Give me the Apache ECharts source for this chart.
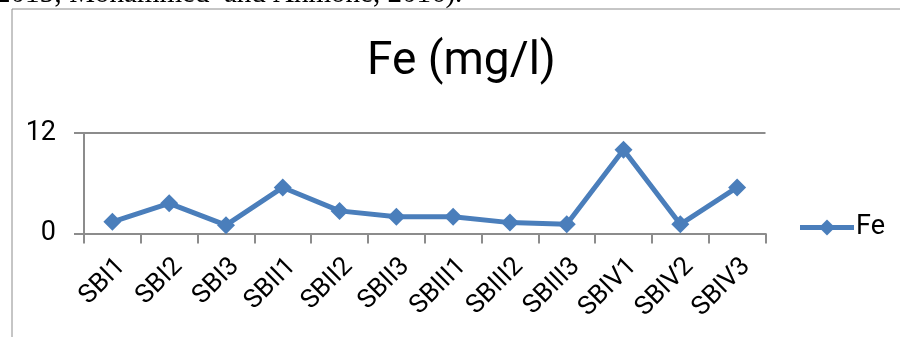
<!DOCTYPE html>
<html>
<head>
<meta charset="utf-8">
<script src="https://cdn.jsdelivr.net/npm/echarts@6/dist/echarts.min.js"></script>
<style>
  html, body { margin: 0; padding: 0; background: #fff; }
  #chart { width: 900px; height: 337px; }
</style>
</head>
<body>
<div id="chart"></div>
<script>
// Sampling sites and measured iron concentration
const sites = ['SBI1', 'SBI2', 'SBI3', 'SBII1', 'SBII2', 'SBII3', 'SBIII1', 'SBIII2', 'SBIII3', 'SBIV1', 'SBIV2', 'SBIV3'];
const feValues = [1.4, 3.6, 1.0, 5.5, 2.7, 2.0, 2.0, 1.3, 1.1, 10.0, 1.1, 5.5];
const yTicks = [0, 12];
const chartTitle = 'Fe (mg/l)';
const seriesName = 'Fe';
const captionText = '2015; Mohammed  and Ahmone, 2016).';

const blue = '#4a7ebb';
const gray = '#8c8c8c';

// legend key: thick line with a diamond in the middle
const legendIcon = 'path://M0,5.5L54,5.5L54,10.5L0,10.5Z M27,0L35,8L27,16L19,8Z';

const chart = echarts.init(document.getElementById('chart'), null, { renderer: 'canvas' });
chart.setOption({
  animation: false,
  backgroundColor: '#fff',
  title: {
    text: chartTitle,
    left: 362,
    top: 34,
    textStyle: { fontFamily: 'Roboto', fontSize: 46, fontWeight: 'normal', color: '#000' }
  },
  legend: {
    data: [{ name: seriesName, icon: legendIcon }],
    left: 795,
    top: 209,
    itemWidth: 54,
    itemHeight: 16,
    itemGap: 4,
    textStyle: { fontFamily: 'Roboto', fontSize: 27, color: '#000', padding: [0, 0, 0, -3] }
  },
  graphic: [
    {
      type: 'rect',
      shape: { x: 12, y: 9, width: 1000, height: 400 },
      style: { fill: 'none', stroke: gray, lineWidth: 1 },
      silent: true
    },
    {
      type: 'text',
      left: -4,
      top: -20,
      style: { text: captionText, fontFamily: 'Liberation Serif', fontSize: 29, fill: '#000' },
      silent: true
    }
  ],
  grid: { left: 84, right: 134.5, top: 133, bottom: 103.5 },
  xAxis: {
    type: 'category',
    data: sites,
    boundaryGap: true,
    axisLine: { lineStyle: { color: gray, width: 2 } },
    axisTick: { show: true, length: 10, interval: 0, lineStyle: { color: gray, width: 2 } },
    axisLabel: {
      interval: 0,
      rotate: 45,
      margin: 20,
      verticalAlign: 'top',
      fontFamily: 'Roboto',
      fontSize: 26,
      color: '#000'
    }
  },
  yAxis: {
    type: 'value',
    min: yTicks[0],
    max: yTicks[yTicks.length - 1],
    interval: yTicks[1] - yTicks[0],
    axisLine: { show: true, lineStyle: { color: gray, width: 2 } },
    axisTick: { show: true, length: 10, lineStyle: { color: gray, width: 2 } },
    splitLine: { show: true, lineStyle: { color: gray, width: 2 } },
    axisLabel: { margin: 28, fontFamily: 'Roboto', fontSize: 27, color: '#000' }
  },
  series: [{
    name: seriesName,
    type: 'line',
    data: feValues,
    symbol: 'diamond',
    symbolSize: 18,
    lineStyle: { color: blue, width: 5 },
    itemStyle: { color: blue },
    z: 5
  }]
});
</script>
</body>
</html>
